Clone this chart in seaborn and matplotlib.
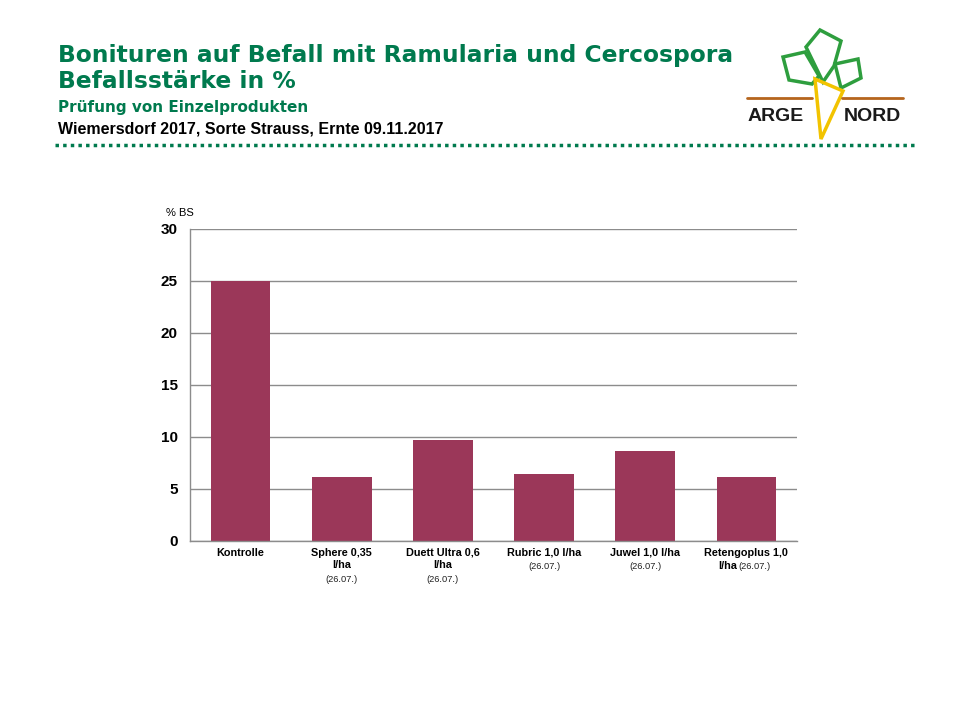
import matplotlib
matplotlib.use("Agg")
import matplotlib.pyplot as plt
import seaborn as sns
from matplotlib.patches import Polygon
from matplotlib.lines import Line2D

sns.set_theme(style="white")
plt.rcParams['font.family'] = ['Liberation Sans', 'DejaVu Sans']
plt.rcParams['text.color'] = 'black'

# Data
treatments = ["Kontrolle", "Sphere 0,35\nl/ha", "Duett Ultra 0,6\nl/ha",
              "Rubric 1,0 l/ha", "Juwel 1,0 l/ha", "Retengoplus 1,0"]
dates = ["", "(26.07.)", "(26.07.)", "(26.07.)", "(26.07.)", "(26.07.)"]
befall = [25.0, 6.2, 9.7, 6.4, 8.7, 6.2]
y_ticks = [0, 5, 10, 15, 20, 25, 30]

GREEN = "#007A4E"
BAR = "#9B3759"
GRID = "#8C8C8C"

fig = plt.figure(figsize=(9.6, 7.2), dpi=100)
ax = fig.add_axes([190 / 960, 1 - 541 / 720, 607 / 960, 312 / 720])

sns.barplot(x=treatments, y=befall, color=BAR, saturation=1, width=0.59,
            edgecolor="none", linewidth=0, ax=ax)

ax.set_ylim(0, 30)
ax.set_yticks(y_ticks)
ax.yaxis.grid(True, color=GRID, linewidth=1)
ax.set_axisbelow(True)
for s in ["top", "right"]:
    ax.spines[s].set_visible(False)
for s in ["left", "bottom"]:
    ax.spines[s].set_color(GRID)
    ax.spines[s].set_linewidth(1)
ax.tick_params(axis="y", length=4, color=GRID, width=1, pad=5, labelsize=11,
               labelcolor="black")
ax.tick_params(axis="x", length=0, pad=5, labelsize=7.8, labelcolor="black")
for lbl in ax.get_yticklabels():
    lbl.set_fontweight("bold")
for lbl in ax.get_xticklabels():
    lbl.set_fontweight("bold")
    lbl.set_linespacing(1.2)
    lbl.set_verticalalignment("top")

# dates below the bold labels
for i, (t, d) in enumerate(zip(treatments, dates)):
    n = t.count("\n") + 1
    if t.startswith("Retengoplus"):
        ax.annotate("l/ha", xy=(i, 0), xycoords=("data", "axes fraction"),
                    xytext=(-7, -5 - 9.4), textcoords="offset points",
                    ha="right", va="top", fontsize=7.8, fontweight="bold")
        ax.annotate(d, xy=(i, 0), xycoords=("data", "axes fraction"),
                    xytext=(-5.5, -5.7 - 9.4), textcoords="offset points",
                    ha="left", va="top", fontsize=6.7, color="#222222")
    elif d:
        ax.annotate(d, xy=(i, 0), xycoords=("data", "axes fraction"),
                    xytext=(0, -5.7 - n * 9.4), textcoords="offset points",
                    ha="center", va="top", fontsize=6.7, color="#222222")

ax.text(-0.04, 1.035, "% BS", transform=ax.transAxes, fontsize=8,
        ha="left", va="bottom")

# header (DejaVu is wider, closer to the spaced-out title lettering)
fig.text(58 / 960, 1 - 62 / 720, "Bonituren auf Befall mit Ramularia und Cercospora",
         color=GREEN, fontsize=16.8, fontweight="bold", va="baseline",
         family="DejaVu Sans")
fig.text(58 / 960, 1 - 88 / 720, "Befallsstärke in %",
         color=GREEN, fontsize=16.8, fontweight="bold", va="baseline",
         family="DejaVu Sans")
fig.text(58 / 960, 1 - 112 / 720, "Prüfung von Einzelprodukten",
         color=GREEN, fontsize=11, fontweight="bold", va="baseline",
         family="DejaVu Sans")
fig.text(58 / 960, 1 - 133 / 720, "Wiemersdorf 2017, Sorte Strauss, Ernte 09.11.2017",
         color="black", fontsize=11.5, fontweight="bold", va="baseline")
fig.add_artist(Line2D([55 / 960, 915 / 960], [1 - 145 / 720, 1 - 145 / 720],
                      color=GREEN, linewidth=2.5, linestyle=(0, (1, 1.2))))


# logo (simplified)
def px(pts):
    return [(x / 960, 1 - y / 720) for x, y in pts]


leaves = [
    [(783, 57), (805, 52), (819, 76), (812, 84), (789, 80)],
    [(806, 47), (820, 30), (841, 41), (834, 66), (823, 82)],
    [(835, 64), (858, 59), (861, 78), (841, 88)],
]
for lf in leaves:
    fig.add_artist(Polygon(px(lf), closed=True, fill=False,
                           edgecolor="#2E9E3E", linewidth=2.5))
fig.add_artist(Line2D([747 / 960, 812 / 960], [1 - 98 / 720] * 2,
                      color="#B5651D", linewidth=2))
fig.add_artist(Line2D([842 / 960, 903 / 960], [1 - 98 / 720] * 2,
                      color="#B5651D", linewidth=2))
fig.add_artist(Polygon(px([(815, 79), (843, 91), (821, 139)]), closed=True,
                       fill=False, edgecolor="#F2C300", linewidth=2.5))
fig.text(776 / 960, 1 - 121 / 720, "ARGE", fontsize=14, fontweight="bold",
         ha="center", va="baseline", color="#1A1A1A")
fig.text(872 / 960, 1 - 121 / 720, "NORD", fontsize=14, fontweight="bold",
         ha="center", va="baseline", color="#1A1A1A")

fig.savefig("out.png", dpi=100)
